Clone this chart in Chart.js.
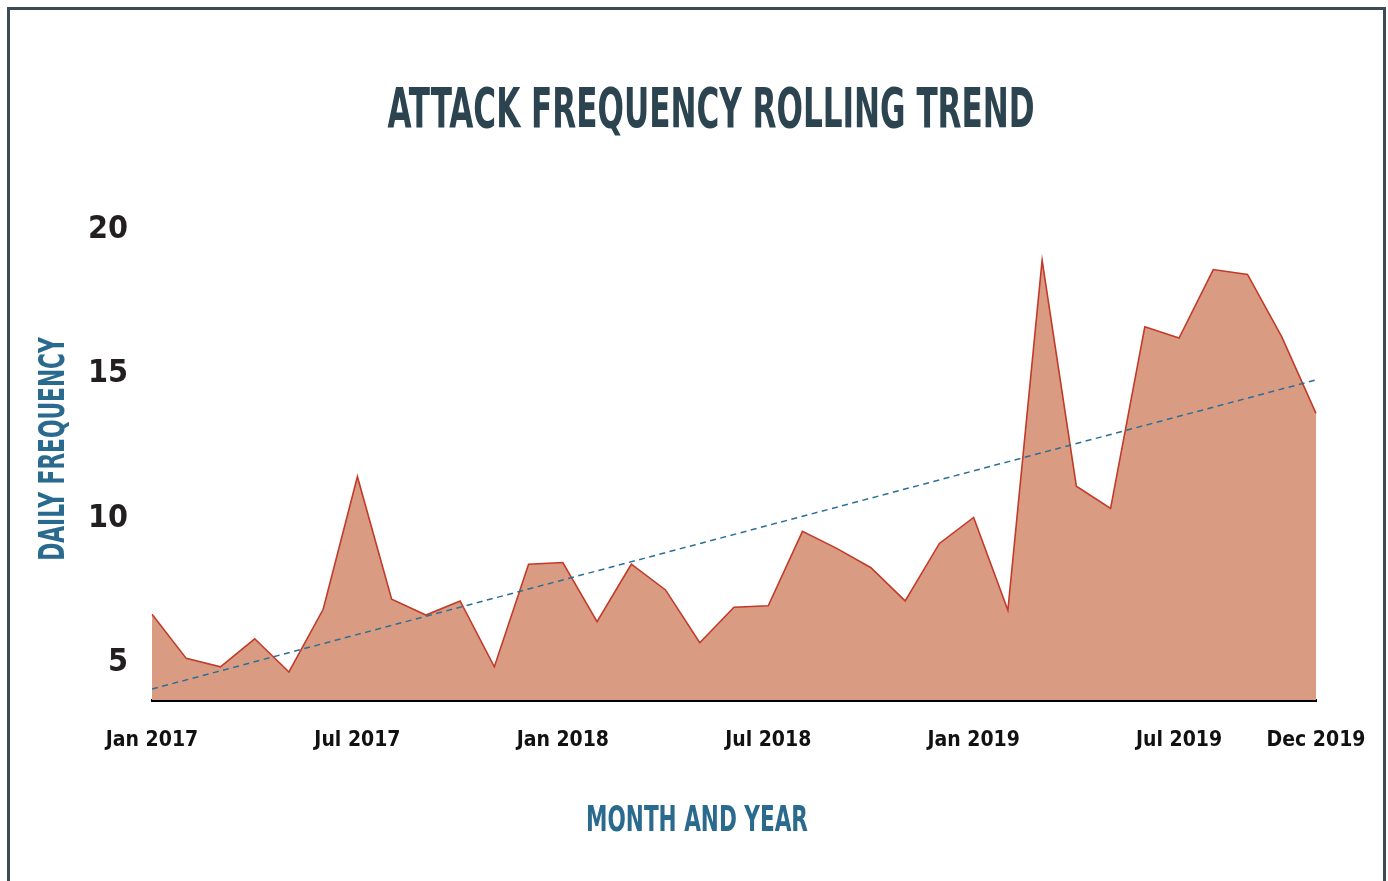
<!DOCTYPE html>
<html>
<head>
<meta charset="utf-8">
<title>Attack Frequency Rolling Trend</title>
<script src="https://cdn.jsdelivr.net/npm/chart.js@4.4.1/dist/chart.umd.min.js"></script>
<style>
html,body{margin:0;padding:0;background:#fff;overflow:hidden;}
canvas{position:absolute;left:0;top:0;}
#frame{position:absolute;left:7px;top:7px;width:1373px;height:900px;border:3px solid #3b4c55;pointer-events:none;}
</style>
</head>
<body>
<canvas id="chartFrequency" width="1388" height="881"></canvas>
<div id="frame"></div>
<script>
var months = [
	'Jan 2017','Feb 2017','Mar 2017','Apr 2017','May 2017','Jun 2017','Jul 2017','Aug 2017','Sep 2017','Oct 2017','Nov 2017','Dec 2017',
	'Jan 2018','Feb 2018','Mar 2018','Apr 2018','May 2018','Jun 2018','Jul 2018','Aug 2018','Sep 2018','Oct 2018','Nov 2018','Dec 2018',
	'Jan 2019','Feb 2019','Mar 2019','Apr 2019','May 2019','Jun 2019','Jul 2019','Aug 2019','Sep 2019','Oct 2019','Dec 2019'
];
var dailyFrequency = [
	6.69, 5.16, 4.87, 5.84, 4.69, 6.86, 11.45, 7.21, 6.66, 7.15, 4.87, 8.42,
	8.48, 6.43, 8.42, 7.53, 5.70, 6.93, 6.98, 9.56, 8.97, 8.30, 7.15, 9.14,
	10.04, 6.83, 18.94, 11.12, 10.35, 16.64, 16.25, 18.62, 18.45, 16.29, 13.64
];
// trend line end values
var trendStart = 4.10;
var trendEnd = 14.80;
var xTickLabels = ['Jan 2017','Jul 2017','Jan 2018','Jul 2018','Jan 2019','Jul 2019','Dec 2019'];
var xTickIndex = [0, 6, 12, 18, 24, 30, 34];
var yTicks = [5, 10, 15, 20];

var narrow = '"Liberation Sans Narrow", "DejaVu Sans Condensed", sans-serif';

var trendData = months.map(function(m, i){
	if(i == 0) return trendStart;
	if(i == months.length - 1) return trendEnd;
	return null;
});

function squeezedText(ctx, text, x, y, size, color, sx, vertical){
	ctx.save();
	ctx.translate(x, y);
	if(vertical) ctx.rotate(-Math.PI / 2);
	ctx.scale(sx, 1);
	ctx.font = 'bold ' + size + 'px ' + narrow;
	ctx.fillStyle = color;
	ctx.textAlign = 'center';
	ctx.textBaseline = 'middle';
	ctx.fillText(text, 0, 0);
	ctx.restore();
}

// condensed headings: chart title and both axis titles
var headings = {
	id: 'headings',
	afterDraw: function(chart){
		var ctx = chart.ctx;
		squeezedText(ctx, 'ATTACK FREQUENCY ROLLING TREND', 711, 112, 56, '#2c4350', 0.617, false);
		squeezedText(ctx, 'MONTH AND YEAR', 697, 822, 35, '#2a6a8e', 0.685, false);
		squeezedText(ctx, 'DAILY FREQUENCY', 55, 449, 35, '#2a6a8e', 0.69, true);
	}
};

var chartFrequency = new Chart(document.getElementById('chartFrequency'), {
	type: 'line',
	data: {
		labels: months,
		datasets: [
			{
				label: 'Trend',
				data: trendData,
				spanGaps: true,
				borderColor: '#2b6f96',
				borderWidth: 1.5,
				borderDash: [6, 4.5],
				pointRadius: 0,
				fill: false,
				order: 0
			},
			{
				label: 'Daily frequency',
				data: dailyFrequency,
				borderColor: '#c23b2a',
				borderWidth: 1.6,
				backgroundColor: '#d99c83',
				pointRadius: 0,
				tension: 0,
				fill: 'start',
				order: 1
			}
		]
	},
	options: {
		responsive: false,
		animation: false,
		layout: { padding: { top: 229.7, right: 72, bottom: 0, left: 0 } },
		plugins: {
			legend: { display: false },
			title: { display: false },
			tooltip: { enabled: false }
		},
		scales: {
			x: {
				grid: { display: false, drawTicks: false },
				border: { display: true, color: '#000', width: 3 },
				ticks: {
					autoSkip: false,
					maxRotation: 0,
					padding: 28,
					color: '#111',
					font: { family: narrow, size: 21, weight: 'bold' },
					callback: function(val, i){
						var pos = xTickIndex.indexOf(i);
						return pos < 0 ? null : xTickLabels[pos];
					}
				},
				afterFit: function(scale){
					scale.height = 181;
					scale.paddingLeft = 0;
					scale.paddingRight = 0;
				}
			},
			y: {
				min: 3.72,
				max: 20,
				grid: { display: false, drawTicks: false },
				border: { display: false },
				ticks: {
					padding: 24,
					color: '#231f20',
					font: { family: narrow, size: 32, weight: 'bold' }
				},
				afterBuildTicks: function(scale){
					scale.ticks = yTicks.map(function(v){ return { value: v }; });
				},
				afterFit: function(scale){ scale.width = 152; }
			}
		}
	},
	plugins: [headings]
});
</script>
</body>
</html>
